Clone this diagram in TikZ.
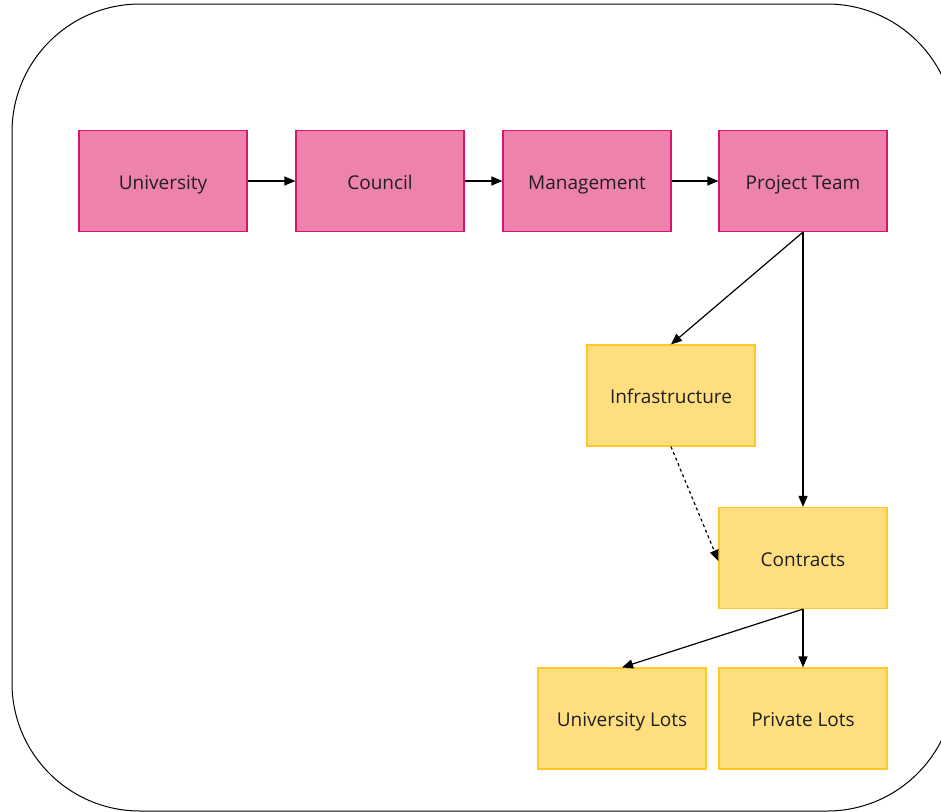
\documentclass[tikz,border=0pt]{standalone}
\usepackage{fontspec}
\setmainfont{Open Sans}
\usetikzlibrary{arrows.meta}
\definecolor{pinkfill}{RGB}{237,130,172}
\definecolor{pinkline}{RGB}{214,22,108}
\definecolor{yellowfill}{RGB}{255,222,128}
\definecolor{yellowline}{RGB}{255,200,40}
\tikzstyle{every node}=[minimum width=168pt, minimum height=101pt, inner sep=0pt, text height=20pt, text depth=4pt, font=\fontsize{19}{22}\selectfont, text=black!88]
\tikzstyle{pinkbox}=[draw=pinkline, fill=pinkfill, line width=1.2pt]
\tikzstyle{yellowbox}=[draw=yellowline, fill=yellowfill, line width=1.2pt]
\tikzstyle{link}=[-{Triangle[length=11pt,width=9pt]}, line width=1.2pt, black]

\begin{document}
\begin{tikzpicture}[x=1pt, y=-1pt]
\useasboundingbox (0,0) rectangle (941,811);
% Frame
    \draw[line width=1pt, rounded corners=128pt] (12,4) rectangle (955,811);
% Chain of command
    \node[pinkbox] (university) at (163,181) {University};
    \node[pinkbox] (council) at (380,181) {Council};
    \node[pinkbox] (management) at (587,181) {Management};
    \node[pinkbox] (team) at (803,181) {Project Team};
% Work packages
    \node[yellowbox] (infra) at (671,395.5) {Infrastructure};
    \node[yellowbox] (contracts) at (803,558) {Contracts};
    \node[yellowbox] (unilots) at (622,718.5) {University Lots};
    \node[yellowbox] (privlots) at (803,718.5) {Private Lots};
% Connectors
    \draw[link] (university) -- (council);
    \draw[link] (council) -- (management);
    \draw[link] (management) -- (team);
    \draw[link] (team.south) -- (infra.north);
    \draw[link] (team.south) -- (contracts.north);
    \draw[link, dashed] (infra.south) -- ([yshift=-3pt]contracts.west);
    \draw[link] (contracts.south) -- (unilots.north);
    \draw[link] (contracts.south) -- (privlots.north);
\end{tikzpicture}
\end{document}
